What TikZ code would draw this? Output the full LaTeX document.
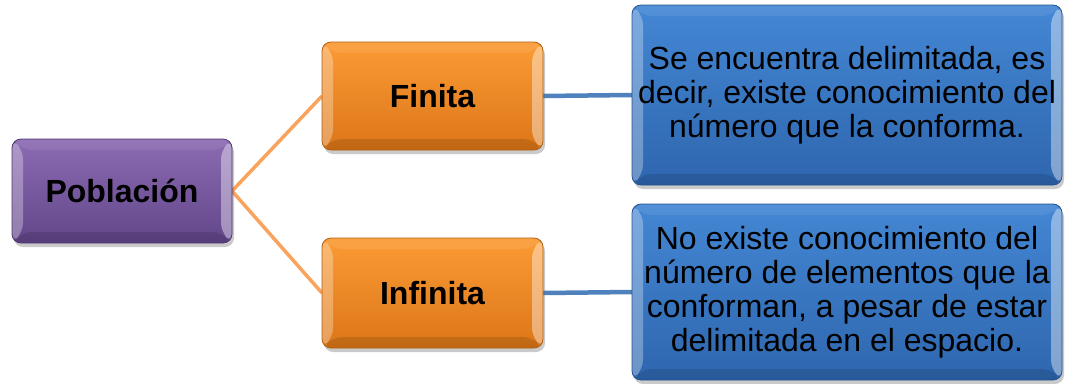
\documentclass[tikz,border=0pt]{standalone}
\usepackage{fontspec}
\setmainfont{Liberation Sans}
\usetikzlibrary{shadows,backgrounds}
\definecolor{purpT}{HTML}{8C6BB3}
\definecolor{purpB}{HTML}{62468A}
\definecolor{purpD}{HTML}{4E3670}
\definecolor{orT}{HTML}{FB9B35}
\definecolor{orB}{HTML}{DC7618}
\definecolor{orD}{HTML}{B0600F}
\definecolor{blT}{HTML}{4487D4}
\definecolor{blB}{HTML}{2E66AE}
\definecolor{blD}{HTML}{24528E}
\definecolor{oline}{HTML}{F9A35C}
\definecolor{bline}{HTML}{4F81BD}
\tikzset{
  bevel/.style={path picture={
    \def\b{11pt}
    \fill[white,opacity=.30] (path picture bounding box.north west) -- ([xshift=\b,yshift=-\b]path picture bounding box.north west) -- ([xshift=\b,yshift=\b]path picture bounding box.south west) -- (path picture bounding box.south west) -- cycle;
    \fill[white,opacity=.40] (path picture bounding box.north east) -- ([xshift=-\b,yshift=-\b]path picture bounding box.north east) -- ([xshift=-\b,yshift=\b]path picture bounding box.south east) -- (path picture bounding box.south east) -- cycle;
    \fill[white,opacity=.08] (path picture bounding box.north west) -- (path picture bounding box.north east) -- ([xshift=-\b,yshift=-\b]path picture bounding box.north east) -- ([xshift=\b,yshift=-\b]path picture bounding box.north west) -- cycle;
    \fill[black,opacity=.12] (path picture bounding box.south west) -- (path picture bounding box.south east) -- ([xshift=-\b,yshift=\b]path picture bounding box.south east) -- ([xshift=\b,yshift=\b]path picture bounding box.south west) -- cycle;
  }},
  boxbase/.style={rectangle, rounded corners=9pt, inner sep=0pt, outer sep=0pt, line width=0.8pt, bevel,
    drop shadow={shadow xshift=2pt, shadow yshift=-4pt, opacity=0.35, fill=black!60},
    align=center, font=\fontsize{32}{34}\selectfont},
  pbox/.style={boxbase, draw=purpD, top color=purpT, bottom color=purpB, font=\fontsize{32}{34}\selectfont\bfseries},
  obox/.style={boxbase, draw=orD, top color=orT, bottom color=orB, font=\fontsize{32}{34}\selectfont\bfseries},
  bbox/.style={boxbase, draw=blD, top color=blT, bottom color=blB},
  olink/.style={draw=oline, line width=3.5pt},
  blink/.style={draw=bline, line width=4.5pt},
}
\begin{document}
\begin{tikzpicture}[x=1pt,y=-1pt]
\useasboundingbox (0,0) rectangle (1065,383);
\node[pbox, minimum width=220pt, minimum height=104pt] (pob) at (122,191) {Población};
\node[obox, minimum width=221pt, minimum height=108pt] (fin) at (432.5,96) {Finita};
\node[obox, minimum width=221pt, minimum height=110pt] (inf) at (432.5,293) {Infinita};
\node[bbox, minimum width=430pt, minimum height=180pt] (dfin) at (847,95) {Se encuentra delimitada, es\\decir, existe conocimiento del\\número que la conforma.};
\node[bbox, minimum width=430pt, minimum height=176pt] (dinf) at (847,292) {No existe conocimiento del\\número de elementos que la\\conforman, a pesar de estar\\delimitada en el espacio.};
\begin{scope}[on background layer]
\draw[olink] (pob.east) -- (fin.west);
\draw[olink] (pob.east) -- (inf.west);
\draw[blink] (fin.east) -- (dfin.west);
\draw[blink] (inf.east) -- (dinf.west);
\end{scope}
\end{tikzpicture}
\end{document}
